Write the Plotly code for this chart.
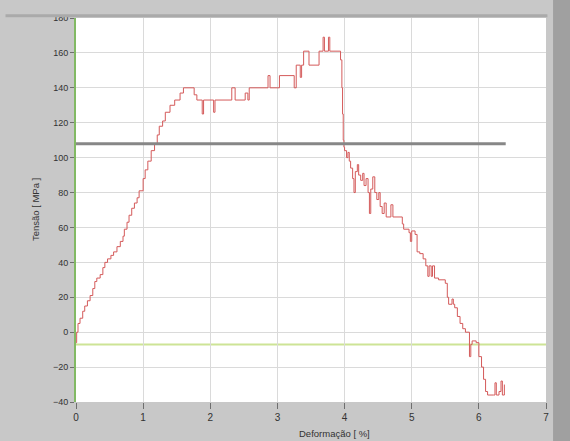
import plotly.graph_objects as go

# Step-curve data: strain [%] where stress [MPa] changes level
strain = [0.00, 0.01, 0.03, 0.06, 0.10, 0.13, 0.17, 0.21, 0.25, 0.28, 0.31, 0.36, 0.40, 0.43,
          0.47, 0.52, 0.56, 0.61, 0.66, 0.70, 0.72, 0.76, 0.79, 0.83, 0.87, 0.91, 0.94, 1.00,
          1.03, 1.07, 1.12, 1.17, 1.21, 1.24, 1.29, 1.33, 1.40, 1.47, 1.55, 1.60, 1.76, 1.80,
          1.88, 1.90, 2.05, 2.07, 2.32, 2.37, 2.52, 2.56, 2.58, 2.86, 2.89, 3.03, 3.25, 3.28,
          3.34, 3.36, 3.39, 3.47, 3.62, 3.68, 3.70, 3.76, 3.78, 3.94, 3.96, 3.97, 3.98, 3.99,
          4.00, 4.03, 4.05, 4.07, 4.09, 4.12, 4.14, 4.16, 4.19, 4.21, 4.24, 4.27, 4.29, 4.32,
          4.35, 4.37, 4.39, 4.42, 4.45, 4.48, 4.51, 4.53, 4.56, 4.59, 4.62, 4.69, 4.72, 4.86,
          4.88, 4.96, 4.98, 5.00, 5.05, 5.08, 5.12, 5.17, 5.21, 5.24, 5.26, 5.29, 5.31, 5.34,
          5.40, 5.50, 5.53, 5.55, 5.60, 5.62, 5.64, 5.68, 5.72, 5.76, 5.80, 5.86, 5.88, 5.90,
          5.96, 6.00, 6.04, 6.07, 6.10, 6.13, 6.22, 6.24, 6.26, 6.30, 6.33, 6.35, 6.38]
stress = [-6, 0, 5, 8, 12, 15, 18, 21, 25, 29, 31, 33, 37, 40,
          42, 44, 46, 49, 52, 55, 59, 63, 67, 71, 74, 77, 81, 88,
          93, 98, 104, 108, 113, 118, 121, 126, 130, 133, 137, 140, 136, 133,
          125, 133, 126, 133, 140, 133, 137, 133, 140, 147, 140, 147, 140, 153,
          146, 153, 161, 153, 161, 169, 161, 169, 161, 156, 140, 125, 110, 106,
          104, 100, 103, 98, 94, 88, 80, 92, 96, 90, 87, 91, 84, 88,
          80, 68, 82, 89, 80, 76, 80, 72, 68, 74, 66, 73, 66, 62,
          59, 57, 52, 58, 56, 46, 45, 42, 38, 32, 38, 32, 38, 31,
          30, 28, 20, 16, 19, 16, 14, 9, 5, 2, 0, -14, -7, -5,
          -6, -14, -20, -27, -34, -36, -36, -29, -36, -34, -28, -36, -30]

x_ticks = [0, 1, 2, 3, 4, 5, 6, 7]
y_ticks = [-40, -20, 0, 20, 40, 60, 80, 100, 120, 140, 160, 180]

limit_upper = 108      # gray horizontal reference line
limit_upper_end = 6.4
limit_lower = -7       # green horizontal reference line

fig = go.Figure()
fig.add_trace(go.Scatter(x=strain, y=stress, mode="lines", line_shape="hv",
                         line=dict(color="rgb(212,90,90)", width=1),
                         showlegend=False, hoverinfo="skip"))

fig.add_shape(type="line", xref="x", yref="y", x0=0, x1=7, y0=limit_lower, y1=limit_lower,
              line=dict(color="rgb(205,228,150)", width=2), layer="below")
fig.add_shape(type="line", xref="x", yref="y", x0=0, x1=limit_upper_end,
              y0=limit_upper, y1=limit_upper,
              line=dict(color="rgb(135,135,135)", width=3))

# panel decorations
fig.add_shape(type="rect", xref="paper", yref="paper", x0=1.015, x1=1.06, y0=-0.15, y1=1.1,
              line=dict(width=0), fillcolor="rgb(160,160,160)")
fig.add_shape(type="line", xref="paper", yref="paper", x0=-0.15, x1=1.003, y0=1.006, y1=1.006,
              line=dict(color="rgb(170,170,170)", width=3))

font_family = "Liberation Sans, Arial, sans-serif"
fig.update_layout(
    width=570, height=441,
    margin=dict(l=76, r=24, t=18, b=39),
    paper_bgcolor="rgb(200,200,200)",
    plot_bgcolor="white",
    font=dict(family=font_family, size=9, color="rgb(50,50,50)"),
    xaxis=dict(range=[0, 7], tickvals=x_ticks, showgrid=True,
               gridcolor="rgb(218,218,218)", gridwidth=1, zeroline=False,
               ticks="outside", ticklen=6, tickcolor="rgb(110,110,110)",
               showline=False, tickfont=dict(size=10)),
    yaxis=dict(range=[-40, 180], tickvals=y_ticks, showgrid=True,
               gridcolor="rgb(218,218,218)", gridwidth=1, zeroline=False,
               ticks="outside", ticklen=4, tickcolor="rgb(110,110,110)",
               showline=True, linecolor="rgb(130,185,100)", linewidth=2,
               tickfont=dict(size=9)),
    annotations=[
        dict(text="Tensão [ MPa ]", xref="paper", yref="paper", x=-0.087, y=0.5,
             textangle=-90, showarrow=False, font=dict(size=9.5, color="rgb(50,50,50)"),
             xanchor="center", yanchor="middle"),
        dict(text="Deformação [ %]", xref="paper", yref="paper", x=0.549, y=-0.082,
             showarrow=False, font=dict(size=9.5, color="rgb(50,50,50)"),
             xanchor="center", yanchor="middle"),
    ],
)

fig.write_html("out.html", config={"displayModeBar": False},
               post_script="document.body.style.margin='0';document.body.style.overflow='hidden';")
